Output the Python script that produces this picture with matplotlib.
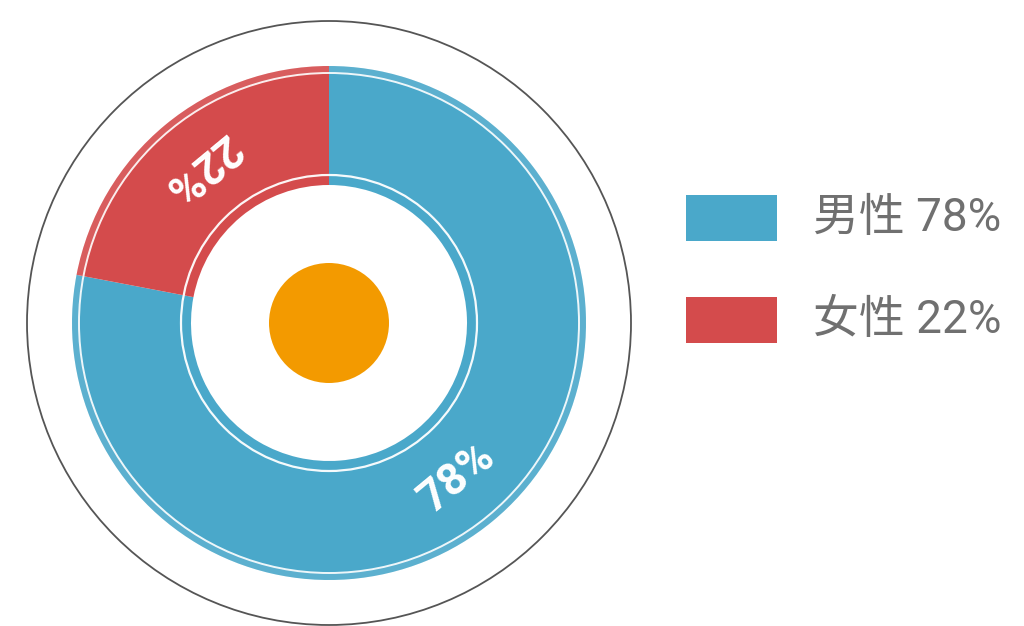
"""
性别比例环形图
"""

import matplotlib.pyplot as plt
import matplotlib.patches as mpatches
import numpy as np

plt.rcParams['font.family'] = ['Roboto', 'Noto Sans CJK SC', 'DejaVu Sans']

# 数据
categorias = ['男性', '女性']
valores = [78, 22]
cores = ['#4aa8ca', '#d44b4c']

W, H = 1024, 626
cx, cy = 329, H - 323
r_ext, r_int = 257, 138


def main():
    fig = plt.figure(figsize=(W / 100, H / 100), dpi=100)
    ax = fig.add_axes([0, 0, 1, 1])

    wedges, _ = ax.pie(valores, colors=cores, startangle=90, counterclock=False,
                       center=(cx, cy), radius=r_ext, frame=True,
                       wedgeprops=dict(width=r_ext - r_int, linewidth=0))

    ax.set_xlim(0, W)
    ax.set_ylim(0, H)
    ax.set_aspect('equal')
    ax.axis('off')

    # círculo externo fino
    ax.add_patch(mpatches.Circle((cx, cy), 302, fill=False, edgecolor='#555555', linewidth=1.3))
    # faixa clara na borda externa
    ax.add_patch(mpatches.Wedge((cx, cy), r_ext, 0, 360, width=7, facecolor='white',
                                alpha=0.1, linewidth=0))
    # linhas brancas
    ax.add_patch(mpatches.Circle((cx, cy), 250, fill=False, edgecolor='white', linewidth=1.4, alpha=0.9))
    ax.add_patch(mpatches.Circle((cx, cy), 148, fill=False, edgecolor='white', linewidth=1.6, alpha=0.95))
    # centro laranja
    ax.add_patch(mpatches.Circle((cx, cy), 60, facecolor='#f39a00', edgecolor='none'))

    # rótulos ao longo do arco
    r_txt = (r_ext + r_int) / 2 + 4
    for w, v in zip(wedges, valores):
        ang = (w.theta1 + w.theta2) / 2
        t = np.deg2rad(ang)
        ax.text(cx + r_txt * np.cos(t), cy + r_txt * np.sin(t), f'{v}%',
                rotation=ang + 90, rotation_mode='anchor', ha='center', va='center',
                color='white', fontsize=32, fontweight='bold')

    # legenda
    for i, (cat, v, c) in enumerate(zip(categorias, valores, cores)):
        y = H - 218 - i * 102
        ax.add_patch(mpatches.Rectangle((686, y - 23), 91, 46, facecolor=c, edgecolor='none'))
        ax.text(813, y, f'{cat} {v}%', ha='left', va='center', color='#707070', fontsize=33)

    plt.savefig('out.png', dpi=100)
    plt.close()


if __name__ == "__main__":
    main()
